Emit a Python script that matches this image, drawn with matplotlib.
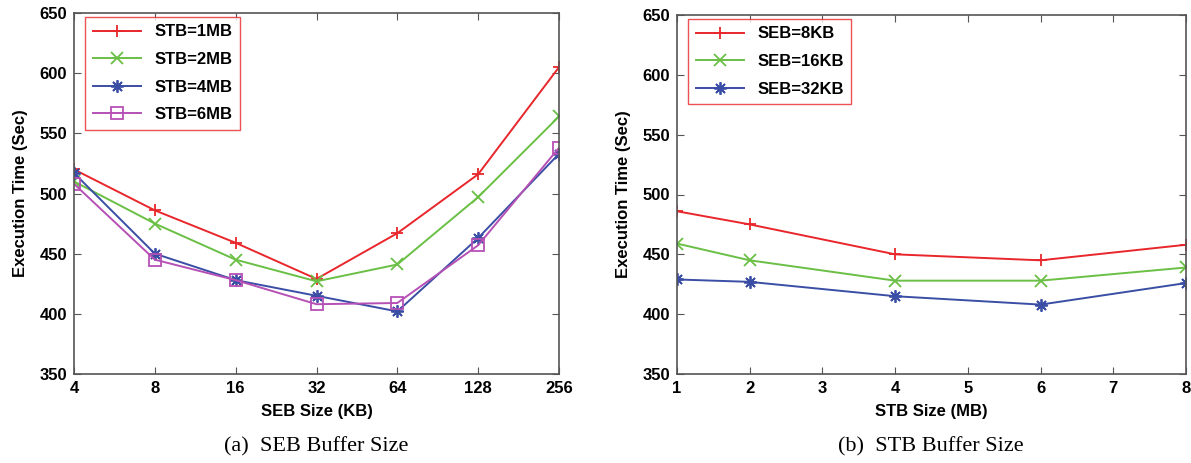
import matplotlib
matplotlib.use('Agg')
import matplotlib.pyplot as plt

plt.rcParams['font.family'] = ['Liberation Sans', 'DejaVu Sans']

# left panel: SEB size sweep
seb_sizes = [4, 8, 16, 32, 64, 128, 256]
stb_1mb = [520, 486, 459, 429, 467, 516, 605]
stb_2mb = [510, 475, 445, 427, 441, 497, 564]
stb_4mb = [517, 450, 428, 415, 402, 463, 533]
stb_6mb = [508, 445, 428, 408, 409, 457, 538]

# right panel: STB size sweep
stb_sizes = [1, 2, 4, 6, 8]
seb_8kb = [486, 475, 450, 445, 458]
seb_16kb = [459, 445, 428, 428, 439]
seb_32kb = [429, 427, 415, 408, 426]

RED = '#e8262b'
GREEN = '#6abf45'
BLUE = '#3a4ea5'
MAGENTA = '#b650b5'
ASTER = (8, 2, 0)

fig = plt.figure(figsize=(11.91, 4.63), dpi=100)
ax1 = fig.add_axes([74 / 1191, 89 / 463, 485 / 1191, 361 / 463])
ax2 = fig.add_axes([677 / 1191, 89 / 463, 509 / 1191, 359 / 463])

kw = dict(lw=1.4, ms=9, mew=1.3)
ax1.plot(seb_sizes, stb_1mb, color=RED, marker='+', label='STB=1MB', **kw)
ax1.plot(seb_sizes, stb_2mb, color=GREEN, marker='x', label='STB=2MB', **kw)
ax1.plot(seb_sizes, stb_4mb, color=BLUE, marker=ASTER, label='STB=4MB', **kw)
ax1.plot(seb_sizes, stb_6mb, color=MAGENTA, marker='s', mfc='none',
         label='STB=6MB', lw=1.4, ms=8, mew=1.3)
ax1.set_xscale('log', base=2)
ax1.set_xlim(4, 256)
ax1.set_xticks(seb_sizes)
ax1.set_xticklabels([str(s) for s in seb_sizes])
ax1.minorticks_off()
ax1.set_xlabel('SEB Size (KB)', fontsize=12, fontweight='bold', labelpad=6)

ax2.plot(stb_sizes, seb_8kb, color=RED, marker='+', label='SEB=8KB', **kw)
ax2.plot(stb_sizes, seb_16kb, color=GREEN, marker='x', label='SEB=16KB', **kw)
ax2.plot(stb_sizes, seb_32kb, color=BLUE, marker=ASTER, label='SEB=32KB', **kw)
ax2.set_xlim(1, 8)
ax2.set_xticks(range(1, 9))
ax2.set_xlabel('STB Size (MB)', fontsize=12, fontweight='bold', labelpad=6)

for ax, w, h in ((ax1, 485, 361), (ax2, 509, 359)):
    ax.set_ylim(350, 650)
    ax.set_yticks(range(350, 651, 50))
    ax.set_ylabel('Execution Time (Sec)', fontsize=12, fontweight='bold', labelpad=8)
    ax.tick_params(direction='in', top=True, right=True, length=5, width=0.8,
                   labelsize=12, pad=5, color='#555555')
    for lbl in ax.get_xticklabels() + ax.get_yticklabels():
        lbl.set_fontweight('bold')
    for sp in ax.spines.values():
        sp.set_color('#555555')
        sp.set_linewidth(1.2)
    leg = ax.legend(loc='upper left', fancybox=False, prop={'weight': 'bold', 'size': 12},
                    handlelength=2.9, borderpad=0.45, labelspacing=0.75,
                    bbox_to_anchor=(11 / w, 1 - 4 / h), borderaxespad=0,
                    handletextpad=0.8)
    leg.get_frame().set_edgecolor(RED)
    leg.get_frame().set_linewidth(1.0)

fig.text(316 / 1191, 1 - 447 / 463, '(a)  SEB Buffer Size', ha='center', va='center',
         fontsize=16, family=['Liberation Serif', 'DejaVu Serif'])
fig.text(931 / 1191, 1 - 447 / 463, '(b)  STB Buffer Size', ha='center', va='center',
         fontsize=16, family=['Liberation Serif', 'DejaVu Serif'])

fig.savefig('out.png', dpi=100)
